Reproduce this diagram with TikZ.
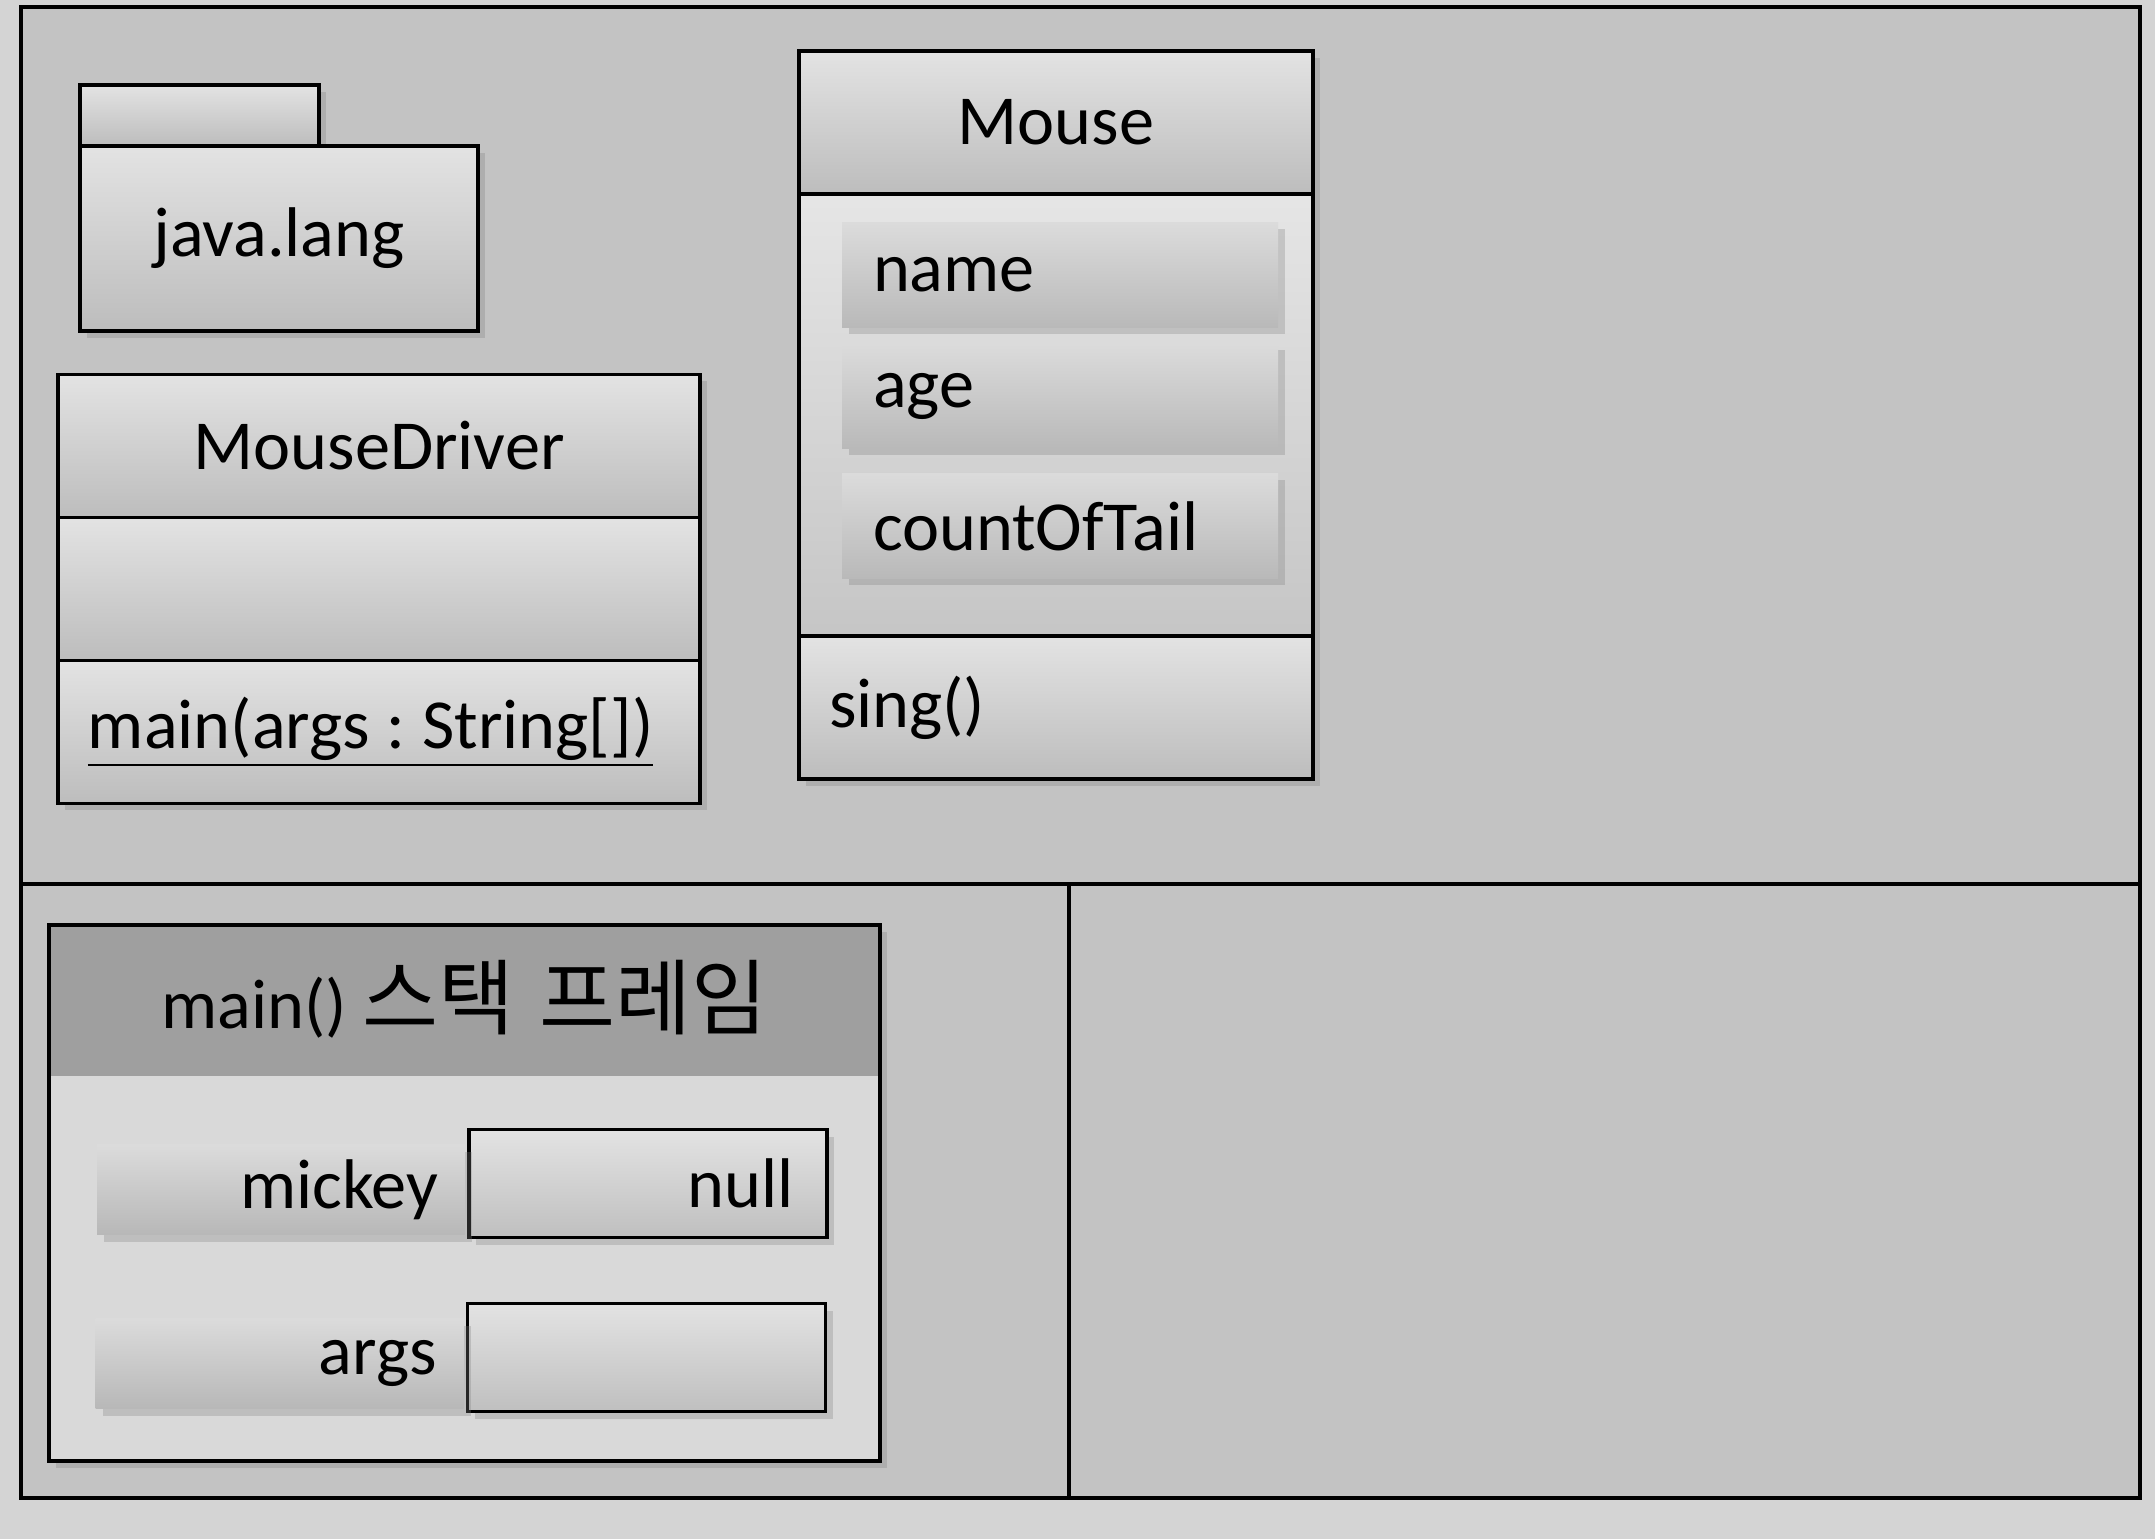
\documentclass[tikz,border=0pt]{standalone}
\usepackage{fontspec}
\setmainfont{Carlito}
\newfontfamily\kor{Noto Sans CJK KR}
\usepackage{xcolor}
\usepackage{tikz}
\usetikzlibrary{positioning,shadows}

\begin{document}
\frenchspacing
\begin{tikzpicture}[
  font=\fontsize{20}{24}\selectfont,
  line width=1.1pt,
  shad/.style={drop shadow={shadow xshift=0.7mm,shadow yshift=-0.7mm,opacity=0.3}},
  part/.style={draw,shad,outer sep=0pt,top color=gray!22,bottom color=gray!52},
  hdr/.style={part,minimum height=14.3mm,align=center},
  opr/.style={part,minimum height=14.3mm,inner xsep=3mm,align=left},
  attr/.style={shad,top color=gray!28,bottom color=gray!55,minimum height=10.5mm,
               text width=37.4mm,inner xsep=3.1mm,align=left},
  slot/.style={draw,shad,top color=gray!22,bottom color=gray!50,minimum height=10.8mm,
               text width=29.2mm,inner xsep=3.3mm,align=right},
  vname/.style={shad,top color=gray!28,bottom color=gray!56,minimum height=9mm,
                text width=31.4mm,inner xsep=2.7mm,align=right}
]

%%%%%%%%%%%%%%%%%%%%%% page and memory areas %%%%%%%%%%%%%%%%%%%%%%%%%%%%%%
\fill[gray!34] (0,0) rectangle (215.5mm,-153.9mm);
\filldraw[fill=gray!47,line width=1pt] (2.1mm,-0.7mm) rectangle (214.0mm,-149.8mm);
\draw[line width=1pt] (2.1mm,-88.4mm) -- (214.0mm,-88.4mm);
\draw[line width=1pt] (106.9mm,-88.4mm) -- (106.9mm,-149.8mm);

%%%%%%%%%%%%%%%%%%%%%% package %%%%%%%%%%%%%%%%%%%%%%%%%%%%%%%%%%%%%%%%%%%%
\node[part,minimum width=23.9mm,minimum height=6.1mm,anchor=south west] (pkgTab) at (8.0mm,-14.6mm) {};
\node[part,minimum width=39.8mm,minimum height=18.5mm,anchor=north west] (pkg) at (pkgTab.south west) {java.lang};

%%%%%%%%%%%%%%%%%%%%%% MouseDriver %%%%%%%%%%%%%%%%%%%%%%%%%%%%%%%%%%%%%%%%
\node[hdr,minimum width=64.2mm] (drvName) at (37.9mm,-44.6mm) {MouseDriver};
\node[hdr,minimum width=64.2mm,below=0pt of drvName] (drvAttr) {};
\node[opr,text width=58.2mm,below=0pt of drvAttr] (drvOps)
      {\underline{main(args\hspace{0.24em}:\hspace{0.24em}String[])}};

%%%%%%%%%%%%%%%%%%%%%% Mouse %%%%%%%%%%%%%%%%%%%%%%%%%%%%%%%%%%%%%%%%%%%%%%
\node[hdr,minimum width=51.4mm] (msName) at (105.6mm,-12.25mm) {Mouse};
\node[part,top color=gray!20,bottom color=gray!45,minimum width=51.4mm,minimum height=44.2mm,
      below=0pt of msName] (msAttr) {};
\node[opr,text width=45.4mm,below=0pt of msAttr] (msOps) {sing()};

\node[attr] (fName) at (106.0mm,-27.5mm) {name};
\node[attr] (fAge)  at (106.0mm,-39.6mm) {age};
\node[attr] (fTail) at (106.0mm,-52.6mm) {countOfTail};

%%%%%%%%%%%%%%%%%%%%%% main() stack frame %%%%%%%%%%%%%%%%%%%%%%%%%%%%%%%%%
\node[draw,shad,fill=gray!30,minimum width=83.1mm,minimum height=53.6mm,
      path picture={\fill[gray!75] (path picture bounding box.north west)
        rectangle ([yshift=-15.1mm]path picture bounding box.north east);}]
      (frm) at (46.45mm,-119.3mm) {};
\node (frmTitle) at ([yshift=-7.6mm]frm.north)
      {main() {\kor\fontsize{23.5}{26}\selectfont 스택\hspace{0.3em}프레임}};

\node[slot] (vMickey) at (64.8mm,-118.35mm) {null};
\node[vname,left=0pt of vMickey,yshift=-0.6mm] (nMickey) {mickey};
\node[slot] (vArgs) at (64.65mm,-135.75mm) {};
\node[vname,left=0pt of vArgs,yshift=-0.6mm] (nArgs) {args};
\end{tikzpicture}
\end{document}
